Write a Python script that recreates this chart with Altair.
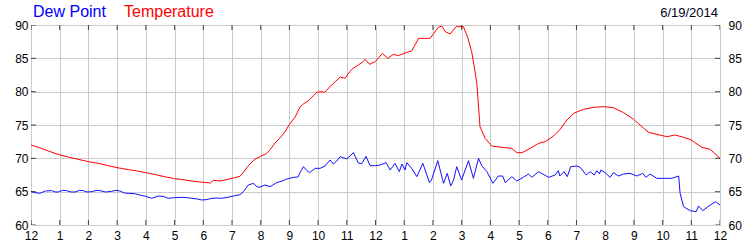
import altair as alt
import pandas as pd

# ---- data ----
temp_hours = [0.0, 0.3, 0.6, 0.94, 1.3, 1.6, 2.0, 2.4, 2.7, 3.0, 3.4, 3.7, 4.0, 4.4, 4.7, 5.0,
              5.3, 5.6, 6.0, 6.25, 6.35, 6.6, 6.9, 7.1, 7.28, 7.4, 7.55, 7.8, 8.0, 8.2, 8.33,
              8.5, 8.7, 8.85, 9.02, 9.2, 9.37, 9.5, 9.65, 9.8, 9.95, 10.1, 10.24, 10.42, 10.6,
              10.77, 10.94, 11.1, 11.22, 11.4, 11.57, 11.64, 11.79, 11.99, 12.24, 12.43, 12.62,
              12.8, 13.09, 13.26, 13.5, 13.7, 13.9, 14.19, 14.31, 14.43, 14.6, 14.81, 15.06,
              15.2, 15.35, 15.45, 15.53, 15.64, 15.82, 16.05, 16.4, 16.75, 16.92, 17.1, 17.39,
              17.68, 17.91, 18.2, 18.43, 18.67, 18.9, 19.24, 19.59, 19.94, 20.29, 20.64, 20.99,
              21.28, 21.51, 21.8, 22.15, 22.44, 22.73, 22.96, 23.37, 23.66, 24.0]
temp_values = [72.0, 71.6, 71.1, 70.6, 70.2, 69.9, 69.5, 69.2, 68.9, 68.6, 68.3, 68.1, 67.85, 67.5,
               67.2, 66.95, 66.8, 66.6, 66.4, 66.3, 66.7, 66.6, 66.9, 67.1, 67.3, 67.9, 68.8,
               69.9, 70.3, 70.7, 71.3, 72.3, 73.2, 74.0, 75.2, 76.2, 77.7, 78.2, 78.6, 79.2, 79.9,
               80.0, 79.9, 80.8, 81.5, 82.2, 82.0, 83.0, 83.5, 84.0, 84.5, 84.85, 84.1, 84.5,
               85.75, 85.0, 85.6, 85.4, 85.9, 86.1, 88.0, 88.0, 88.0, 89.65, 89.85, 89.0, 88.65,
               89.75, 89.75, 88.3, 86.0, 83.5, 81.25, 74.75, 73.0, 71.85, 71.65, 71.5, 70.85,
               70.85, 71.5, 72.25, 72.5, 73.35, 74.35, 75.75, 76.75, 77.35, 77.65, 77.75, 77.6,
               76.85, 75.85, 74.75, 73.9, 73.6, 73.25, 73.5, 73.15, 72.85, 71.65, 71.35, 70.0]

dew_hours = [0.0, 0.15, 0.31, 0.5, 0.72, 0.85, 0.95, 1.1, 1.24, 1.4, 1.53, 1.7, 1.82, 1.95, 2.11,
             2.3, 2.46, 2.6, 2.81, 2.95, 3.1, 3.25, 3.39, 3.6, 3.8, 4.0, 4.2, 4.44, 4.6, 4.78,
             5.0, 5.25, 5.45, 5.6, 5.8, 5.95, 6.1, 6.3, 6.45, 6.64, 6.9, 7.1, 7.28, 7.4, 7.57,
             7.75, 7.85, 7.95, 8.15, 8.33, 8.56, 8.75, 8.91, 9.14, 9.3, 9.37, 9.49, 9.6, 9.7,
             9.9, 10.07, 10.24, 10.42, 10.53, 10.65, 10.77, 11.0, 11.23, 11.4, 11.52, 11.67,
             11.81, 12.0, 12.16, 12.37, 12.51, 12.68, 12.83, 12.92, 13.03, 13.09, 13.26, 13.44,
             13.65, 13.88, 13.95, 14.17, 14.37, 14.5, 14.62, 14.72, 14.83, 15.0, 15.24, 15.41,
             15.59, 15.7, 15.88, 16.09, 16.28, 16.43, 16.52, 16.75, 16.92, 17.15, 17.33, 17.45,
             17.68, 18.03, 18.26, 18.37, 18.42, 18.57, 18.68, 18.8, 19.01, 19.13, 19.34, 19.48,
             19.62, 19.71, 19.8, 19.85, 20.0, 20.17, 20.29, 20.46, 20.64, 20.87, 21.1, 21.31,
             21.42, 21.56, 21.8, 22.03, 22.32, 22.56, 22.61, 22.73, 22.96, 23.17, 23.25, 23.4,
             23.66, 23.85, 24.0]
dew_values = [65.0, 64.85, 64.75, 65.1, 65.15, 64.95, 64.95, 65.2, 65.15, 64.95, 64.95, 65.2,
              65.15, 64.95, 65.0, 65.2, 65.1, 64.95, 65.05, 65.2, 65.1, 64.8, 64.75, 64.7, 64.5,
              64.3, 64.0, 64.35, 64.3, 64.0, 64.1, 64.15, 64.1, 64.0, 63.9, 63.75, 63.8, 64.0,
              64.05, 64.0, 64.2, 64.4, 64.55, 65.0, 66.0, 66.25, 65.8, 65.65, 66.0, 65.75, 66.35,
              66.6, 66.9, 67.15, 67.2, 67.85, 68.75, 68.2, 67.85, 68.5, 68.5, 68.85, 69.75,
              69.15, 69.6, 70.25, 69.9, 70.85, 69.3, 69.2, 70.3, 68.9, 68.9, 69.0, 69.35, 68.25,
              69.25, 68.0, 69.15, 68.25, 69.35, 68.5, 67.25, 69.25, 66.35, 66.75, 69.65, 66.25,
              67.75, 65.85, 66.75, 68.75, 66.75, 69.65, 67.0, 70.0, 68.9, 68.0, 66.25, 67.35,
              67.35, 66.35, 67.25, 66.6, 67.15, 67.65, 67.15, 68.0, 67.15, 67.5, 68.15, 67.35,
              68.0, 67.25, 68.75, 68.85, 68.65, 67.5, 68.0, 67.5, 68.15, 67.65, 68.25, 67.85,
              67.15, 67.85, 67.35, 67.65, 67.75, 67.35, 67.75, 67.15, 67.65, 67.0, 67.0, 67.0,
              67.35, 64.75, 62.75, 62.15, 62.0, 62.85, 62.15, 63.0, 63.5, 63.0]

tick_hours = list(range(0, 25))
y_ticks = [60, 65, 70, 75, 80, 85, 90]
series_names = ["Dew Point", "Temperature"]
date_label = "6/19/2014"

FONT = "Liberation Sans"
GRID = "#cbcbcb"
BLUE = "#1010ff"
RED = "#ff0000"

temp_df = pd.DataFrame({"hour": temp_hours, "value": temp_values})
dew_df = pd.DataFrame({"hour": dew_hours, "value": dew_values})
xt_df = pd.DataFrame({"hour": tick_hours})
yt_df = pd.DataFrame({"v": y_ticks})

xscale = alt.Scale(domain=[0, 24], nice=False, zero=False)
yscale = alt.Scale(domain=[60, 90], nice=False, zero=False)

x_axis = alt.Axis(values=tick_hours, grid=True, gridColor=GRID, ticks=False, tickSize=0,
                  domain=False, labelPadding=5, labelFontSize=12, labelFont=FONT,
                  labelColor="black", labelFlush=False, labelOverlap=False, orient="bottom",
                  labelExpr="datum.value % 12 == 0 ? '12' : '' + (datum.value % 12)",
                  title=None)
y_left = alt.Axis(values=y_ticks, grid=True, gridColor=GRID, ticks=False, tickSize=0,
                  domain=False, labelPadding=3, labelFontSize=12, labelFont=FONT,
                  labelColor="black", labelFlush=False, orient="left", title=None)
y_right = alt.Axis(values=y_ticks, grid=False, ticks=False, tickSize=0, domain=False,
                   labelPadding=8, labelFontSize=12, labelFont=FONT, labelColor="black",
                   labelFlush=False, orient="right", title=None)

X = lambda: alt.X("hour:Q", scale=xscale, axis=x_axis)

temp_line = alt.Chart(temp_df).mark_line(color=RED, strokeWidth=1, clip=True).encode(
    x=X(), y=alt.Y("value:Q", scale=yscale, axis=y_left))
dew_line = alt.Chart(dew_df).mark_line(color=BLUE, strokeWidth=1, clip=True).encode(
    x=X(), y=alt.Y("value:Q", scale=yscale, axis=y_left))

top_ticks = alt.Chart(xt_df).mark_tick(orient="vertical", size=10, thickness=1,
                                       color="black", clip=True).encode(
    x=X(), y=alt.YDatum(90, scale=yscale, axis=y_left))
bot_ticks = alt.Chart(xt_df).mark_tick(orient="vertical", size=10, thickness=1,
                                       color="black", clip=True).encode(
    x=X(), y=alt.YDatum(60, scale=yscale, axis=y_left))
left_ticks = alt.Chart(yt_df).mark_tick(orient="horizontal", size=10, thickness=1,
                                        color="black", clip=True).encode(
    y=alt.Y("v:Q", scale=yscale, axis=y_left), x=alt.XDatum(0, scale=xscale, axis=x_axis))
right_ticks = alt.Chart(yt_df).mark_tick(orient="horizontal", size=10, thickness=1,
                                         color="black", clip=True).encode(
    y=alt.Y("v:Q", scale=yscale, axis=y_right), x=alt.XDatum(24, scale=xscale, axis=x_axis))

title_dew = alt.Chart(pd.DataFrame({"t": [series_names[0]]})).mark_text(
    align="left", baseline="alphabetic", font=FONT, fontSize=16, color="#0000ff").encode(
    text="t:N", x=alt.value(2), y=alt.value(-8))
title_temp = alt.Chart(pd.DataFrame({"t": [series_names[1]]})).mark_text(
    align="left", baseline="alphabetic", font=FONT, fontSize=16, color="#ff0000").encode(
    text="t:N", x=alt.value(93), y=alt.value(-8))
title_date = alt.Chart(pd.DataFrame({"t": [date_label]})).mark_text(
    align="right", baseline="alphabetic", font=FONT, fontSize=13, color="#000020").encode(
    text="t:N", x=alt.value(687), y=alt.value(-8))

main = alt.layer(temp_line, dew_line, top_ticks, bot_ticks, left_ticks,
                 title_dew, title_temp, title_date)

chart = alt.layer(main, right_ticks).resolve_axis(y="independent").properties(
    width=689, height=200,
    padding={"left": 31, "top": 25, "right": 30, "bottom": 25},
    autosize=alt.AutoSizeParams(type="none"),
).configure_view(stroke="black", strokeWidth=1).configure(background="white")

chart.save("out.html", embed_options={"renderer": "svg", "actions": False})
